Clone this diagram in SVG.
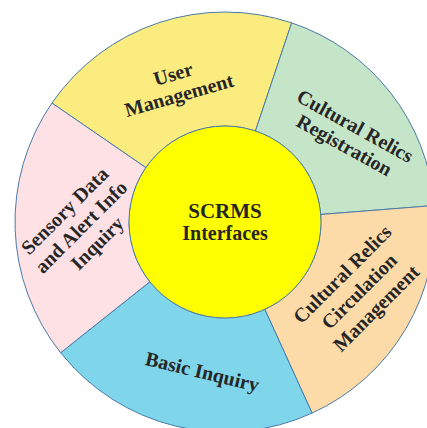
<svg xmlns="http://www.w3.org/2000/svg" width="427" height="428" viewBox="0 0 427 428">
<style>
.sec{stroke:#4a7aa6;stroke-width:1}
.lbl{font-family:"Liberation Serif","Times New Roman",serif;font-weight:bold;font-size:20px;fill:#262626;text-anchor:middle}
</style>
<rect width="427" height="428" fill="#ffffff"/>
<g id="connectors"></g>
<g id="user-management">
<path class="sec" fill="#fbec80" d="M51.94,103.06 A210,210 0 0 1 291.63,22.86 L255.46,130.96 A96,96 0 0 0 145.89,167.63 Z"/>
<g transform="translate(178,91) rotate(-16)"><text class="lbl" x="0" y="-11">User</text><text class="lbl" x="0" y="11">Management</text></g>
</g>
<g id="cultural-relics-registration">
<path class="sec" fill="#c5e5c9" d="M291.63,22.86 A210,210 0 0 1 434.35,205.52 L320.70,214.47 A96,96 0 0 0 255.46,130.96 Z"/>
<g transform="translate(346.5,141.5) rotate(29)"><text class="lbl" x="0" y="-11">Cultural Relics</text><text class="lbl" x="0" y="11">Registration</text></g>
</g>
<g id="cultural-relics-circulation">
<path class="sec" fill="#fddba9" d="M434.35,205.52 A210,210 0 0 1 312.09,413.10 L264.81,309.36 A96,96 0 0 0 320.70,214.47 Z"/>
<g transform="translate(364,296) rotate(-45)"><text class="lbl" x="0" y="-24">Cultural Relics</text><text class="lbl" x="0" y="0">Circulation</text><text class="lbl" x="0" y="24">Management</text></g>
</g>
<g id="basic-inquiry">
<path class="sec" fill="#7fd6eb" d="M312.09,413.10 A210,210 0 0 1 60.65,352.73 L149.87,281.76 A96,96 0 0 0 264.81,309.36 Z"/>
<g transform="translate(200.7,378.3) rotate(13.5)"><text class="lbl" x="0" y="0">Basic Inquiry</text></g>
</g>
<g id="sensory-data">
<path class="sec" fill="#fde1e5" d="M60.65,352.73 A210,210 0 0 1 51.94,103.06 L145.89,167.63 A96,96 0 0 0 149.87,281.76 Z"/>
<g transform="translate(85.7,231.7) rotate(-45)"><text class="lbl" x="0" y="-23">Sensory Data</text><text class="lbl" x="0" y="0">and Alert Info</text><text class="lbl" x="0" y="23">Inquiry</text></g>
</g>
<g id="scrms-interfaces">
<circle cx="225" cy="222" r="96" fill="#ffff00" stroke="#4a7aa6" stroke-width="1"/>
<text class="lbl" x="225" y="218" style="font-size:21px">SCRMS</text>
<text class="lbl" x="225" y="240">Interfaces</text>
</g>
</svg>
